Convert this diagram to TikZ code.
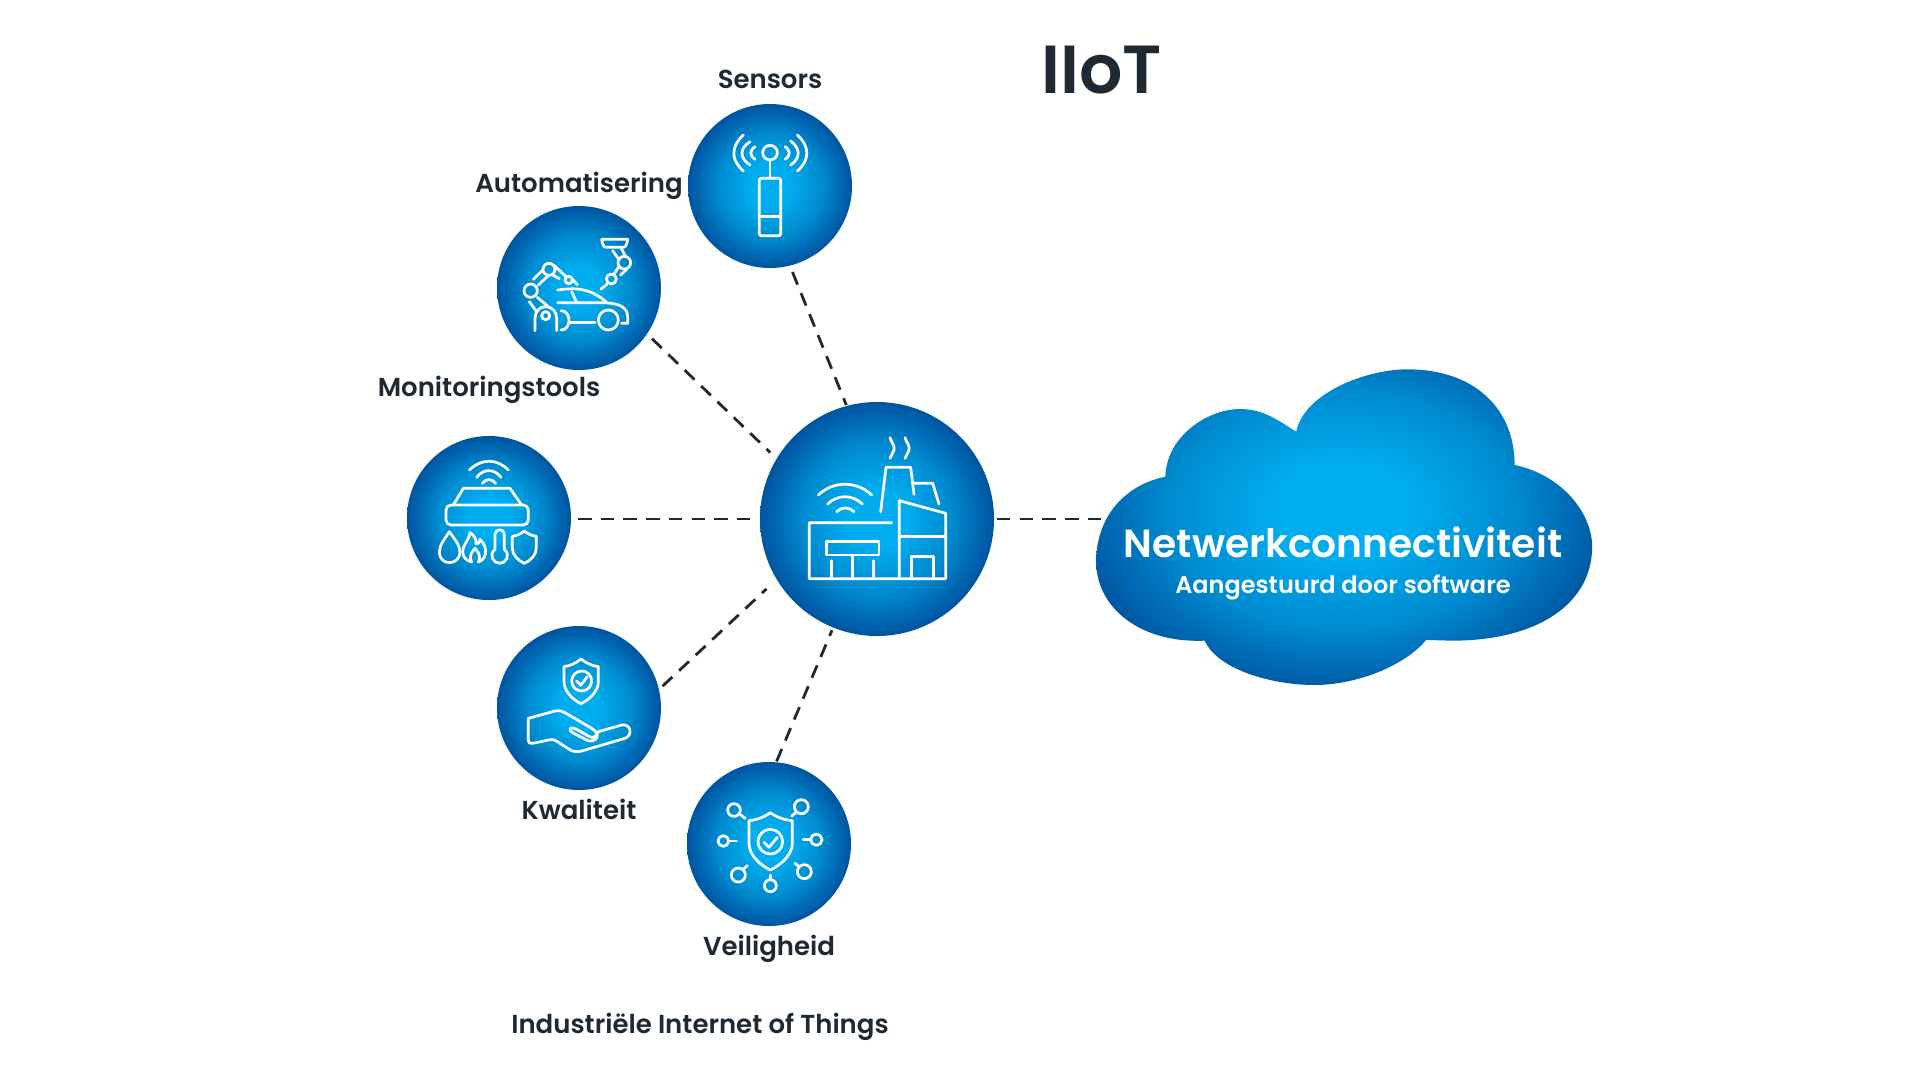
\documentclass[tikz,border=0pt]{standalone}
\usepackage{fontspec}
\setmainfont{Poppins}[BoldFont={Poppins SemiBold}]
\definecolor{ink}{HTML}{1F2933}
\definecolor{blueA}{HTML}{00AEEF}
\definecolor{blueB}{HTML}{0054A0}
\pgfdeclareradialshading{bluedisc}{\pgfpointorigin}{
  color(0bp)=(blueA); color(6bp)=(blueA); color(16bp)=(blueA!60!blueB); color(25bp)=(blueB); color(50bp)=(blueB)}
\tikzset{
  disc/.style={circle,minimum size=164pt,inner sep=0pt,outer sep=0pt,shading=bluedisc},
  hubdisc/.style={disc,minimum size=234pt},
  icon/.style={draw=white,line width=2.7pt,line cap=round,line join=round},
  link/.style={draw=ink,line width=2.8pt,dash pattern=on 13.5pt off 9.2pt},
  thinlink/.style={draw=ink,line width=1.8pt,dash pattern=on 13.4pt off 9.3pt},
  lab/.style={anchor=base,text=ink,font=\bfseries\fontsize{26}{26}\selectfont},
  zoomed/.style={x=0.33333pt,y=-0.33333pt}
}
\begin{document}
\begin{tikzpicture}[x=1pt,y=-1pt]
\useasboundingbox (0,0) rectangle (1920,1080);
% cloud
\begin{scope}[shift={(1080,350)},x=0.3444pt,y=-0.33333pt]
\begin{scope}
\clip (628,245) .. controls (650,130) and (830,58) .. (950,58)
 .. controls (1150,58) and (1262,180) .. (1262,345)
 .. controls (1400,375) and (1487,490) .. (1487,590)
 .. controls (1487,760) and (1330,872) .. (1080,872) -- (1005,870)
 .. controls (940,950) and (800,1005) .. (680,1005)
 .. controls (560,1005) and (400,960) .. (362,872)
 .. controls (170,880) and (47,770) .. (47,635)
 .. controls (47,500) and (130,405) .. (248,380)
 .. controls (250,260) and (370,177) .. (465,177)
 .. controls (535,177) and (580,215) .. (628,245) -- cycle;
\path[shading=bluedisc] (760,480) ellipse [x radius=790,y radius=560];
\end{scope}
\end{scope}
\coordinate (cloud) at (1103,519);
\node[anchor=base,text=white,font=\bfseries\fontsize{39.2}{39.2}\selectfont] (cloudtitle) at (1343,557) {Netwerkconnectiviteit};
\node[anchor=base,text=white,font=\bfseries\fontsize{24}{24}\selectfont] (cloudsub) at (1343,593) {Aangestuurd door software};
% discs
\node[hubdisc] (hub) at (877,519) {};
\node[disc] (sensors) at (770,186) {};
\node[disc] (auto) at (579,288) {};
\node[disc] (monitor) at (489,518) {};
\node[disc] (quality) at (579,708) {};
\node[disc] (safety) at (769,844) {};
% connectors
\draw[link,shorten <=7pt,shorten >=1pt] (sensors.-76) -- (hub.105);
\draw[link,shorten <=7pt,shorten >=9pt] (auto.-34) -- (hub.149);
\draw[link,shorten <=7pt,shorten >=7pt] (monitor.0 |- hub.180) -- (hub.180);
\draw[link,shorten <=5pt,shorten >=14pt] (quality.13) -- (hub.-149);
\draw[link,shorten <=1pt,shorten >=3pt] (safety.85) -- (hub.-112);
\draw[thinlink,shorten <=3pt] (hub.0) -- (cloud);
% labels
\node[lab] (l1) at (770,88) {Sensors};
\node[lab] (l2) at (579,192) {Automatisering};
\node[lab] (l3) at (489,396) {Monitoringstools};
\node[lab] (l4) at (579,819) {Kwaliteit};
\node[lab] (l5) at (769,955) {Veiligheid};
\node[lab] (l6) at (700,1033) {Industriële Internet of Things};
\node[anchor=base,text=ink,font=\bfseries\fontsize{68}{68}\selectfont] (title) at (1102,93) {IIoT};
% sensors icon
\begin{scope}[shift={(660,80)},zoomed,icon]
\draw[icon] (330,218) circle [radius=22];
\draw[icon] (330,240) -- (330,295);
\draw[icon,rounded corners=2pt] (298,295) rectangle (362,467);
\draw[icon] (298,410) -- (362,410);
\draw[icon] (285,200) .. controls (268,212) and (268,226) .. (285,238);
\draw[icon] (270,185) .. controls (238,205) and (238,235) .. (270,255);
\draw[icon] (250,165) .. controls (212,200) and (212,240) .. (250,273);
\draw[icon] (375,200) .. controls (392,212) and (392,226) .. (375,238);
\draw[icon] (392,183) .. controls (422,205) and (422,235) .. (392,255);
\draw[icon] (412,165) .. controls (450,200) and (450,240) .. (412,273);
\end{scope}
% automation icon
\begin{scope}[shift={(480,190)},zoomed]
\draw[icon] (152,302) circle [radius=20];
\draw[icon] (207,238) circle [radius=18];
\draw[icon] (266,270) circle [radius=11];
\draw[icon] (160,268) -- (188,240);
\draw[icon] (175,285) -- (205,257);
\draw[icon] (222,226) -- (258,260);
\draw[icon] (218,255) -- (238,266);
\draw[icon] (278,268) -- (292,284);
\draw[icon] (148,335) -- (170,365);
\draw[icon] (172,322) -- (205,350);
\draw[icon] (165,422) -- (165,385) .. controls (165,365) and (178,350) .. (197,350) .. controls (216,350) and (230,365) .. (230,385) -- (230,422);
\draw[icon] (197,377) circle [radius=12];
\draw[icon] (233,300) .. controls (290,292) and (330,295) .. (378,335);
\draw[icon] (275,305) -- (290,337);
\draw[icon] (233,338) -- (378,338) -- (405,342) .. controls (430,347) and (443,360) .. (443,380) -- (443,400) -- (425,400);
\draw[icon] (243,362) .. controls (275,362) and (275,420) .. (243,420);
\draw[icon] (268,398) -- (345,398);
\draw[icon] (385,390) circle [radius=30];
\draw[icon] (365,148) -- (443,148) .. controls (441,160) and (438,172) .. (430,172) -- (378,172) .. controls (370,172) and (367,160) .. (365,148);
\draw[icon] (398,182) -- (418,210);
\draw[icon] (422,172) -- (437,200);
\draw[icon] (433,218) circle [radius=19];
\draw[icon] (415,232) -- (402,252);
\draw[icon] (440,238) -- (422,255);
\draw[icon] (394,267) circle [radius=15];
\draw[icon] (381,283) -- (363,297);
\end{scope}
% monitoring icon
\begin{scope}[shift={(390,420)},zoomed]
\draw[icon] (238,150) .. controls (275,115) and (320,115) .. (355,150);
\draw[icon] (260,172) .. controls (280,145) and (313,145) .. (333,172);
\draw[icon] (277,190) .. controls (288,175) and (306,175) .. (317,190);
\draw[icon] (190,255) -- (220,205) -- (360,205) -- (395,255);
\draw[icon,rounded corners=5pt] (168,255) rectangle (415,315);
\draw[icon] (178,335) .. controls (165,355) and (148,375) .. (148,397) .. controls (148,415) and (162,428) .. (178,428) .. controls (195,428) and (210,415) .. (210,397) .. controls (210,375) and (192,355) .. (178,335) -- cycle;
\draw[icon] (240,338) .. controls (235,365) and (218,375) .. (218,395) .. controls (218,412) and (230,422) .. (245,426) .. controls (235,405) and (248,395) .. (255,385) .. controls (262,395) and (275,405) .. (265,426) .. controls (282,420) and (290,405) .. (286,385) .. controls (283,370) and (275,365) .. (270,358) .. controls (268,370) and (262,372) .. (258,372) .. controls (260,358) and (252,345) .. (240,338) -- cycle;
\draw[icon] (315,388) -- (315,343) .. controls (315,325) and (343,325) .. (343,343) -- (343,388);
\draw[icon] (315,388) .. controls (295,405) and (310,430) .. (329,430) .. controls (348,430) and (363,405) .. (343,388);
\draw[icon] (403,333) .. controls (392,342) and (380,347) .. (367,349) -- (367,385) .. controls (367,405) and (385,422) .. (403,430) .. controls (421,422) and (439,405) .. (439,385) -- (439,349) .. controls (426,347) and (414,342) .. (403,333) -- cycle;
\end{scope}
% quality icon
\begin{scope}[shift={(480,610)},zoomed]
\draw[icon] (303,147) .. controls (290,158) and (270,168) .. (252,170) -- (252,215) .. controls (252,245) and (280,270) .. (303,281) .. controls (326,270) and (355,245) .. (355,215) -- (355,170) .. controls (336,168) and (316,158) .. (303,147) -- cycle;
\draw[icon] (305,213) circle [radius=30];
\draw[icon] (290,213) -- (302,226) -- (322,200);
\draw[icon] (145,325) -- (225,303) .. controls (240,300) and (250,305) .. (260,311) -- (335,355) .. controls (365,372) and (350,398) .. (325,392) -- (320,390) -- (278,368) .. controls (262,358) and (272,348) .. (288,357) -- (325,378) .. controls (338,385) and (345,385) .. (355,365) -- (425,345) .. controls (452,340) and (460,375) .. (435,385) -- (305,423) .. controls (290,427) and (278,425) .. (268,418) -- (232,395) .. controls (222,388) and (215,387) .. (205,390) -- (158,400) .. controls (150,402) and (145,398) .. (145,392) -- cycle;
\end{scope}
% safety icon
\begin{scope}[shift={(660,750)},zoomed]
\draw[icon] (331,188) .. controls (315,200) and (290,210) .. (267,212) -- (267,280) .. controls (267,315) and (300,345) .. (331,360) .. controls (362,345) and (397,315) .. (397,280) -- (397,212) .. controls (372,210) and (347,200) .. (331,188) -- cycle;
\draw[icon] (331,275) circle [radius=37];
\draw[icon] (312,277) -- (327,292) -- (352,262);
\draw[icon] (222,180) circle [radius=19]; \draw[icon] (243,195) -- (255,205);
\draw[icon] (424,170) circle [radius=21]; \draw[icon] (408,187) -- (395,198);
\draw[icon] (190,273) circle [radius=16]; \draw[icon] (208,273) -- (230,273);
\draw[icon] (469,269) circle [radius=17]; \draw[icon] (450,269) -- (430,269);
\draw[icon] (235,375) circle [radius=21]; \draw[icon] (250,358) -- (262,347);
\draw[icon] (433,365) circle [radius=21]; \draw[icon] (418,350) -- (405,340);
\draw[icon] (331,407) circle [radius=18]; \draw[icon] (331,388) -- (331,375);
\end{scope}
% factory icon
\begin{scope}[shift={(750,395)},zoomed]
\draw[icon] (420,128) .. controls (425,145) and (435,150) .. (432,165) .. controls (430,175) and (423,180) .. (420,190);
\draw[icon] (465,128) .. controls (470,145) and (480,150) .. (477,165) .. controls (475,175) and (468,180) .. (465,190);
\draw[icon] (392,350) -- (408,217) -- (482,217) -- (492,298);
\draw[icon] (492,265) -- (548,265) -- (567,327);
\draw[icon] (205,300) .. controls (250,257) and (320,257) .. (365,300);
\draw[icon] (233,327) .. controls (262,298) and (308,298) .. (337,327);
\draw[icon] (260,350) .. controls (275,335) and (297,335) .. (312,350);
\draw[icon] (425,383) -- (178,383) -- (178,551) -- (587,551) -- (587,355) -- (448,317) -- (448,551);
\draw[icon] (448,425) -- (587,425);
\draw[icon] (484,551) -- (484,485) -- (550,485) -- (550,551);
\draw[icon] (230,440) rectangle (387,480);
\draw[icon] (245,497) -- (245,551);
\draw[icon] (308,480) -- (308,551);
\draw[icon] (371,497) -- (371,551);
\end{scope}
\end{tikzpicture}
\end{document}
